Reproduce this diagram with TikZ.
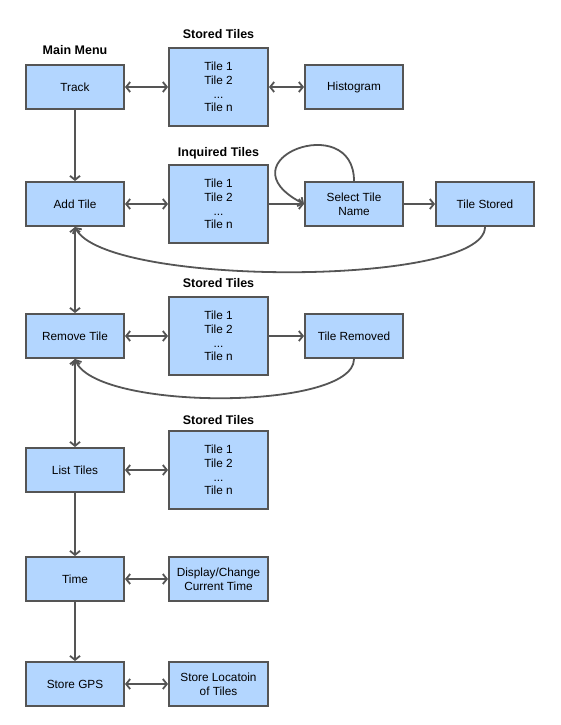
\documentclass[tikz,border=0pt]{standalone}
\usepackage{fontspec}
\setmainfont{Liberation Sans}
\usepackage{tikz}
\usetikzlibrary{arrows.meta,positioning}
\definecolor{boxblue}{RGB}{179,214,255}
\definecolor{edgegray}{RGB}{85,85,85}

\begin{document}
\begin{tikzpicture}[
  x=1pt, y=1pt,
  node distance=43pt,
  box/.style={draw=edgegray, line width=2pt, fill=boxblue, align=center,
    minimum width=98pt, minimum height=44pt, inner sep=2pt,
    font=\fontsize{11.8}{13.6}\selectfont},
  tiles/.style={box, minimum width=99pt, minimum height=78pt},
  lbl/.style={font=\bfseries\fontsize{12.5}{14}\selectfont, inner sep=0pt,
    text height=9pt, text depth=2.5pt},
  arr/.style={-{Straight Barb[length=4pt,width=10pt]}, line width=1.8pt, draw=edgegray},
  darr/.style={arr, {Straight Barb[length=4pt,width=10pt]}-{Straight Barb[length=4pt,width=10pt]}}
]
\useasboundingbox (0,0) rectangle (561,-725);

% main menu column
\node[box] (track) at (75,-87) {Track};
\node[lbl, above=7pt of track] (mainmenu) {Main Menu};
\node[box, below=71pt of track] (addtile) {Add Tile};
\node[box, below=86pt of addtile] (remove) {Remove Tile};
\node[box, below=88pt of remove] (list) {List Tiles};
\node[box, below=63pt of list] (time) {Time};
\node[box, below=59pt of time] (gps) {Store GPS};

% tile lists and results
\node[tiles, right=of track] (stored1) {Tile 1\\Tile 2\\...\\Tile n};
\node[lbl, above=6pt of stored1] (stored1lbl) {Stored Tiles};
\node[box, right=35pt of stored1] (histo) {Histogram};

\node[tiles, right=of addtile] (inquired) {Tile 1\\Tile 2\\...\\Tile n};
\node[lbl, above=5pt of inquired] (inquiredlbl) {Inquired Tiles};
\node[box, right=35pt of inquired] (select) {Select Tile\\Name};
\node[box, right=31pt of select] (tstored) {Tile Stored};

\node[tiles, right=of remove] (stored3) {Tile 1\\Tile 2\\...\\Tile n};
\node[lbl, above=6pt of stored3] (stored3lbl) {Stored Tiles};
\node[box, right=35pt of stored3] (removed) {Tile Removed};

\node[tiles, right=of list] (stored4) {Tile 1\\Tile 2\\...\\Tile n};
\node[lbl, above=3pt of stored4] (stored4lbl) {Stored Tiles};

\node[box, minimum width=99pt, right=of time] (display) {Display/Change\\Current Time};
\node[box, minimum width=99pt, right=of gps] (storeloc) {Store Locatoin\\of Tiles};

% connectors
\draw[darr] (track) -- (stored1);
\draw[darr] (stored1) -- (histo);
\draw[arr] (track) -- (addtile);
\draw[darr] (addtile) -- (inquired);
\draw[arr] (inquired) -- (select);
\draw[arr] (select.north) .. controls +(0,72) and +(-85,44) .. (select.west);
\draw[arr] (select) -- (tstored);
\draw[arr] (tstored.south) .. controls +(0,-60) and +(30,-60) .. (addtile.south);
\draw[darr] (addtile) -- (remove);
\draw[darr] (remove) -- (stored3);
\draw[arr] (stored3) -- (removed);
\draw[arr] (removed.south) .. controls +(0,-52) and +(20,-52) .. (remove.south);
\draw[darr] (remove) -- (list);
\draw[darr] (list) -- (stored4);
\draw[arr] (list) -- (time);
\draw[darr] (time) -- (display);
\draw[arr] (time) -- (gps);
\draw[darr] (gps) -- (storeloc);
\end{tikzpicture}
\end{document}
